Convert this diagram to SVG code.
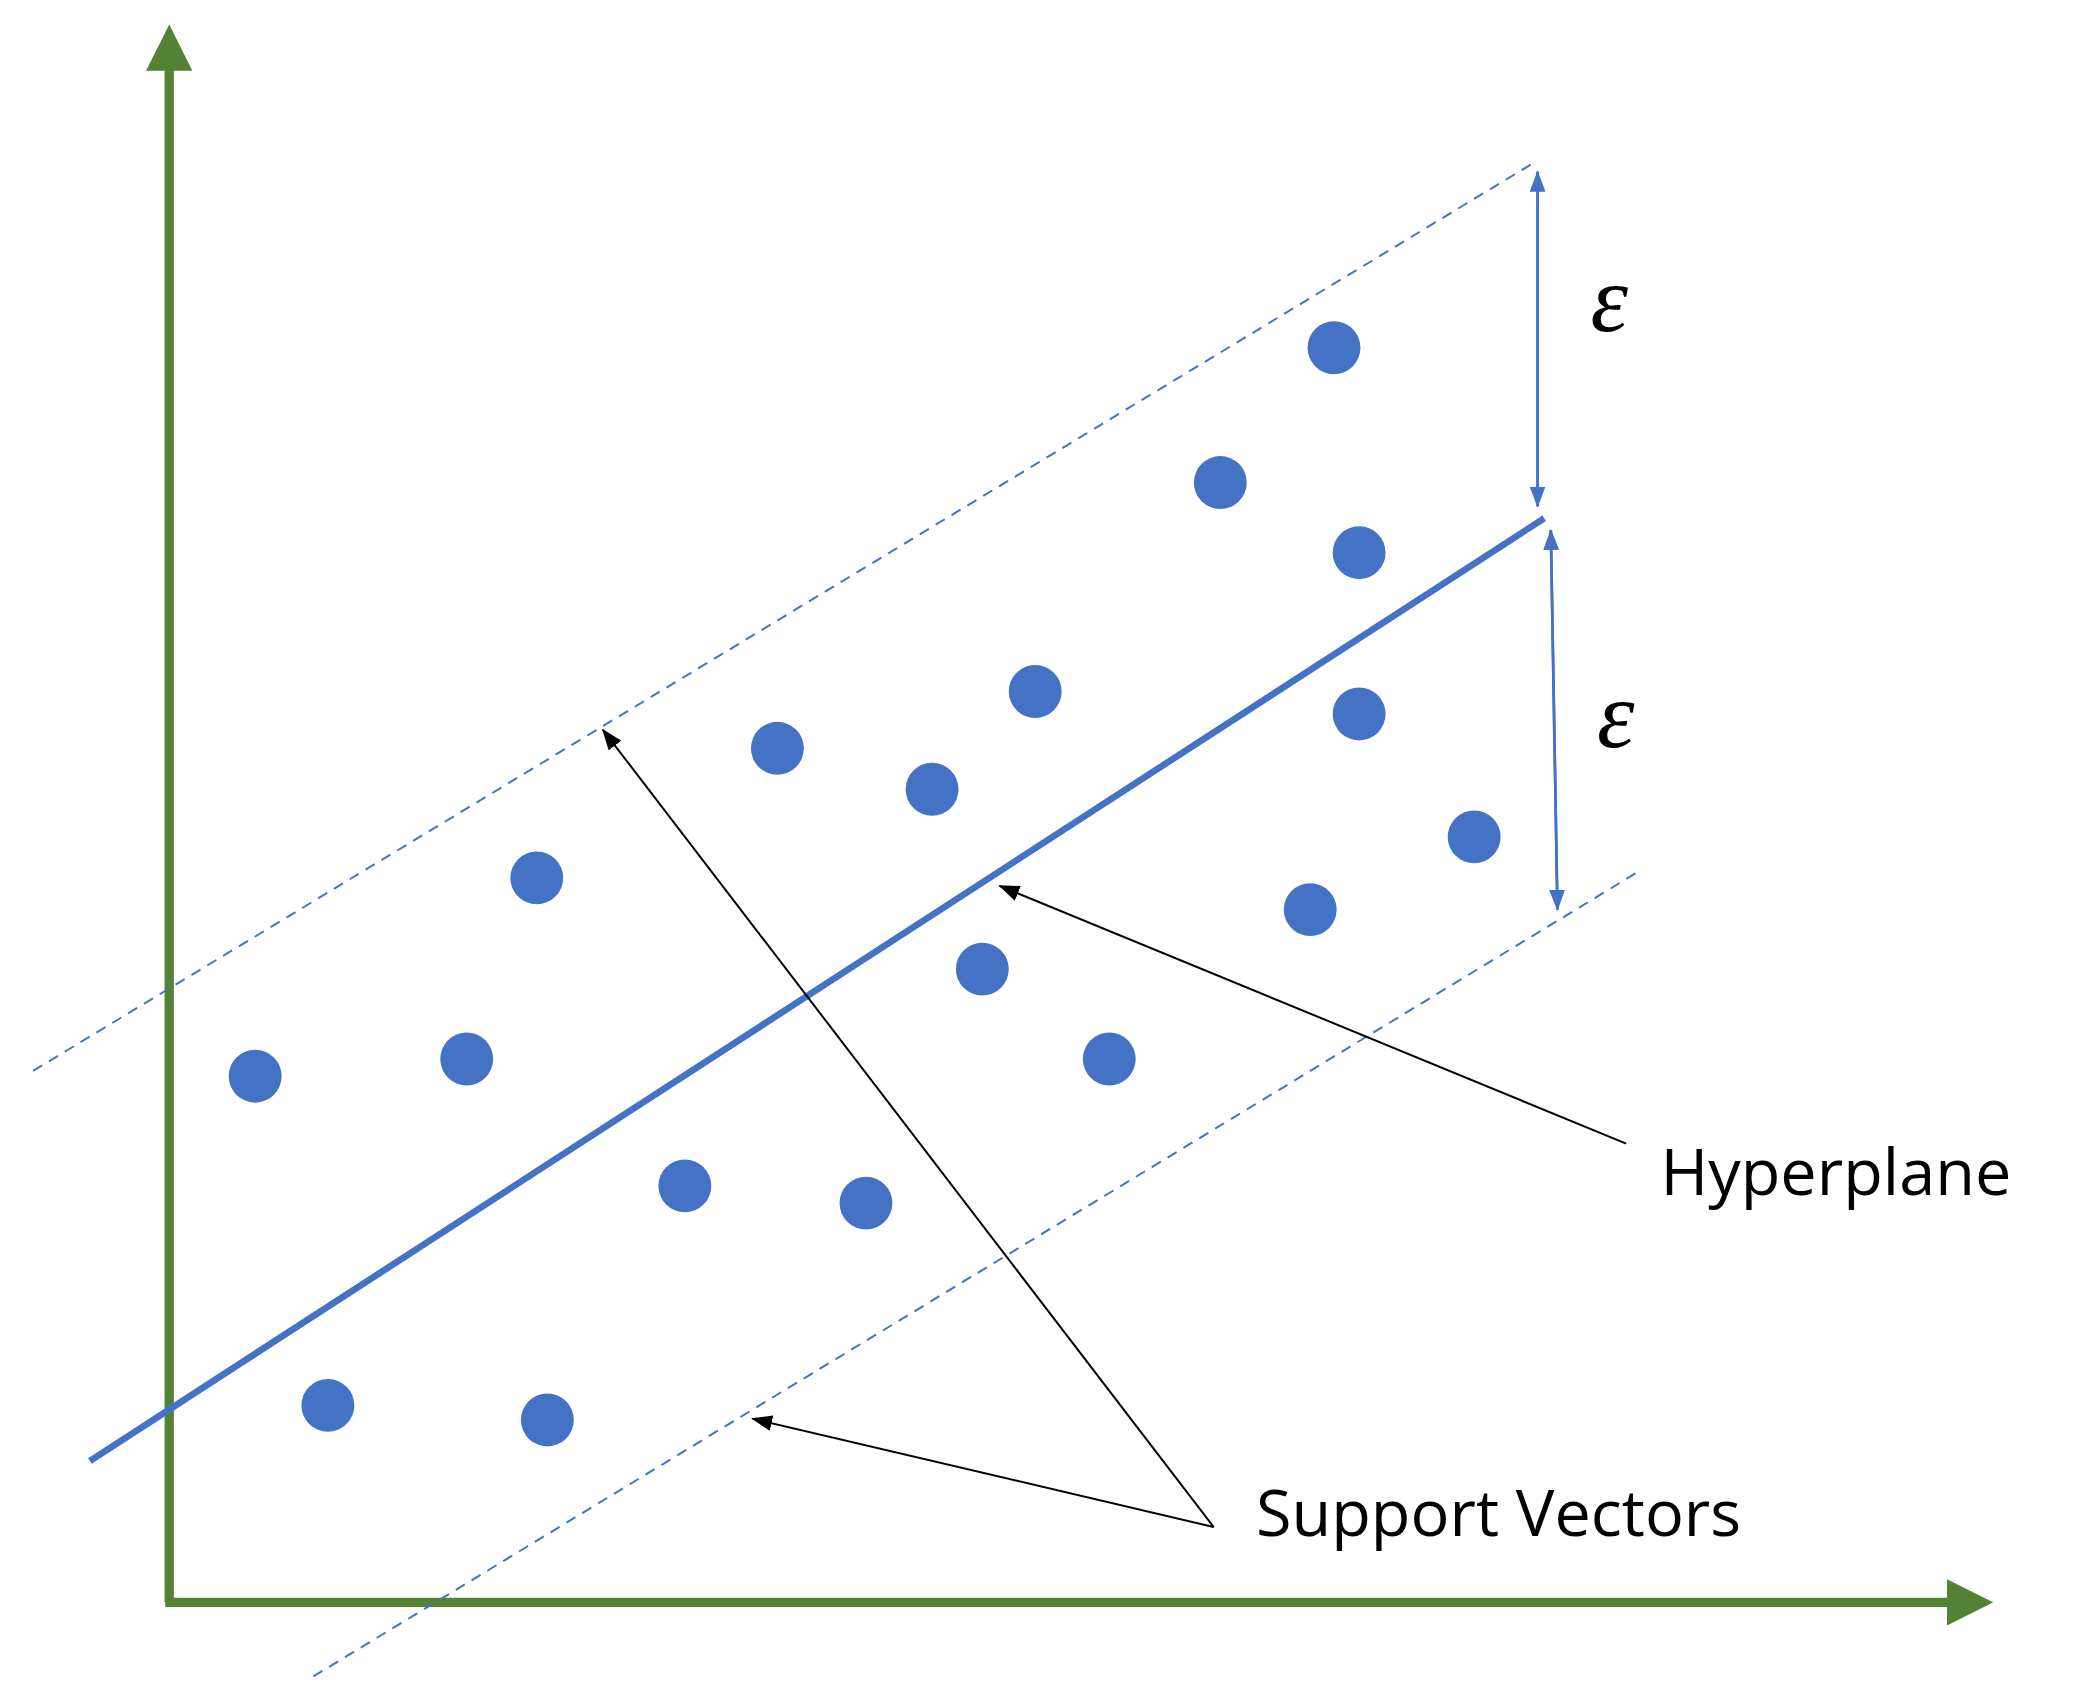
<svg xmlns="http://www.w3.org/2000/svg" width="2073" height="1701" viewBox="0 0 2073 1701">
<defs>
<style>
.dot{fill:#4472C4}
.lbl{font-family:"Open Sans","Liberation Sans",sans-serif;font-size:49px;fill:#000}
.eps{font-family:"Liberation Serif",serif;font-style:italic;font-size:72px;fill:#000}
</style>
<marker id="ga" markerWidth="5" markerHeight="5" refX="2.5" refY="2.5" orient="auto" markerUnits="strokeWidth"><path d="M0,0 L5,2.5 L0,5 Z" fill="#548235"/></marker>
<marker id="ba" markerWidth="16" markerHeight="12" refX="15" refY="6" orient="auto" markerUnits="userSpaceOnUse"><path d="M0,0 L16,6 L0,12 Z" fill="#000"/></marker>
<marker id="la" markerWidth="16" markerHeight="12" refX="15" refY="6" orient="auto" markerUnits="userSpaceOnUse"><path d="M0,0 L16,6 L0,12 Z" fill="#4472C4"/></marker>
</defs>
<rect width="2073" height="1701" fill="#fff"/>
<g transform="scale(1.3221)">
<g id="connectors">
<line x1="128" y1="1212" x2="128" y2="36" stroke="#548235" stroke-width="7" marker-end="url(#ga)"/>
<line x1="125" y1="1212" x2="1490" y2="1212" stroke="#548235" stroke-width="7" marker-end="url(#ga)"/>
<line x1="68" y1="1105" x2="1168" y2="392" stroke="#4472C4" stroke-width="5"/>
<line x1="25" y1="810" x2="1162" y2="122" stroke="#4472C4" stroke-width="1.5" stroke-dasharray="8,6"/>
<line x1="237" y1="1268" x2="1238" y2="660" stroke="#4472C4" stroke-width="1.5" stroke-dasharray="8,6"/>
<line x1="1163" y1="383" x2="1163" y2="130" stroke="#4472C4" stroke-width="2" marker-end="url(#la)"/>
<line x1="1163" y1="130" x2="1163" y2="383" stroke="#4472C4" stroke-width="2" marker-end="url(#la)"/>
<line x1="1178" y1="688" x2="1173" y2="401" stroke="#4472C4" stroke-width="2" marker-end="url(#la)"/>
<line x1="1173" y1="401" x2="1178" y2="688" stroke="#4472C4" stroke-width="2" marker-end="url(#la)"/>
<line x1="918" y1="1155" x2="456" y2="552" stroke="#000" stroke-width="1.5" marker-end="url(#ba)"/>
<line x1="918" y1="1155" x2="569" y2="1073" stroke="#000" stroke-width="1.5" marker-end="url(#ba)"/>
<line x1="1230" y1="865" x2="756" y2="670" stroke="#000" stroke-width="1.5" marker-end="url(#ba)"/>
</g>
<g id="points">
<circle class="dot" cx="1009" cy="263" r="20"/><circle class="dot" cx="923" cy="365" r="20"/>
<circle class="dot" cx="1028" cy="418" r="20"/><circle class="dot" cx="783" cy="523" r="20"/>
<circle class="dot" cx="1028" cy="540" r="20"/><circle class="dot" cx="588" cy="566" r="20"/>
<circle class="dot" cx="705" cy="597" r="20"/><circle class="dot" cx="1115" cy="633" r="20"/>
<circle class="dot" cx="406" cy="664" r="20"/><circle class="dot" cx="991" cy="688" r="20"/>
<circle class="dot" cx="743" cy="733" r="20"/><circle class="dot" cx="193" cy="814" r="20"/>
<circle class="dot" cx="353" cy="801" r="20"/><circle class="dot" cx="839" cy="801" r="20"/>
<circle class="dot" cx="518" cy="897" r="20"/><circle class="dot" cx="655" cy="910" r="20"/>
<circle class="dot" cx="248" cy="1063" r="20"/><circle class="dot" cx="414" cy="1074" r="20"/>
</g>
<g id="eps1"><text class="eps" x="1203" y="250">ε</text></g>
<g id="eps2"><text class="eps" x="1208" y="565">ε</text></g>
<g id="hyperplane"><text class="lbl" x="1256" y="904">Hyperplane</text></g>
<g id="support"><text class="lbl" x="950" y="1162">Support Vectors</text></g>
</g>
</svg>
